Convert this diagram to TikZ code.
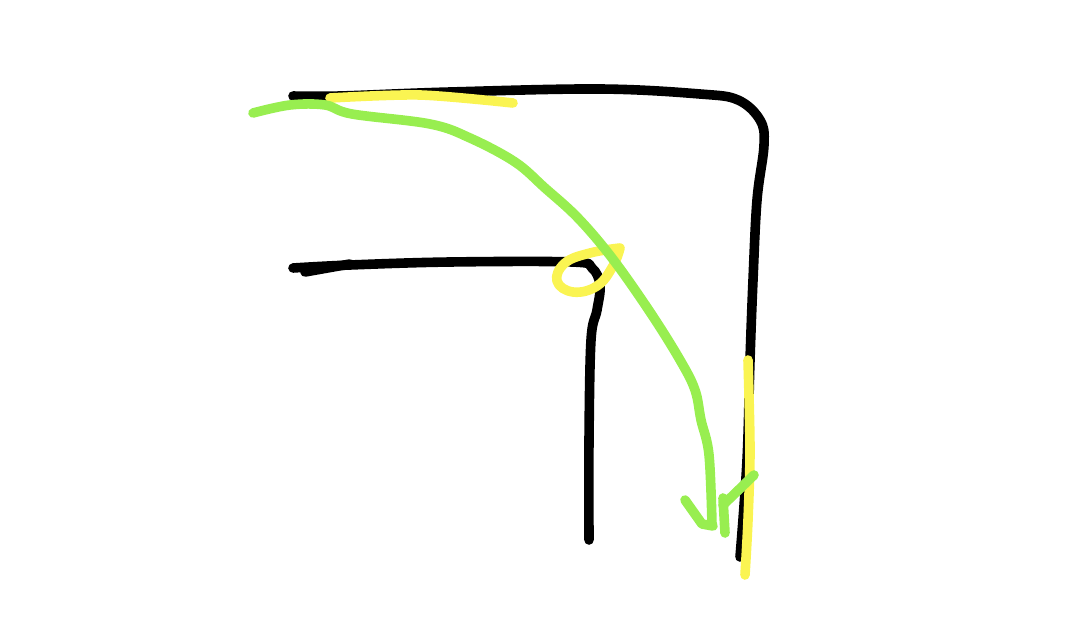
\documentclass[tikz,border=0pt]{standalone}
\usepackage{tikz}
\definecolor{penblack}{RGB}{0,0,0}
\definecolor{penyellow}{RGB}{250,244,82}
\definecolor{pengreen}{RGB}{152,238,80}
\begin{document}
\begin{tikzpicture}[x=0.75pt,y=0.75pt,yscale=-1,xscale=1]
\useasboundingbox (0,0) rectangle (1080,627);
\tikzset{pen/.style={line width=7.2pt,line cap=round,line join=round}}

%Free Drawing: outer wall
\draw [pen,color=penblack] plot [smooth,tension=0.6] coordinates {(293,96) (340,96) (450,92) (600,89) (700,94) (738,100) (760,120) (764,145) (757,200) (753,280) (750,360) (747,460) (740,557)};
%Free Drawing: inner wall
\draw [pen,color=penblack] plot [smooth,tension=0.6] coordinates {(293,268) (350,265) (450,262) (572,262) (592,268) (600,285) (597,310) (591,340) (589,440) (589,540)};
\draw [pen,color=penblack] (305,272) -- (350,264);

%Free Drawing: yellow top
\draw [pen,color=penyellow] plot [smooth] coordinates {(330,98) (420,95) (513,103)};
%Free Drawing: yellow loop
\draw [pen,color=penyellow] plot [smooth,tension=0.7] coordinates {(620,248) (590,253) (565,263) (557,281) (573,292) (597,286) (613,266) (620,248)};
%Free Drawing: yellow right
\draw [pen,color=penyellow] plot [smooth] coordinates {(748,360) (750,450) (748,520) (745,575)};

%Free Drawing: green path
\draw [pen,color=pengreen] plot [smooth,tension=0.6] coordinates {(253,113) (290,105) (325,105) (352,114) (430,124) (470,138) (515,162) (545,188) (578,218) (612,258) (650,312) (680,360) (695,390) (701,420) (709,455) (712,525)};
%Free Drawing: green arrow head
\draw [pen,color=pengreen] (685,500) -- (702,524) -- (713,526);
\draw [pen,color=pengreen] (725,533) -- (723,498);
\draw [pen,color=pengreen] (723,505) -- (754,475);

\end{tikzpicture}
\end{document}
